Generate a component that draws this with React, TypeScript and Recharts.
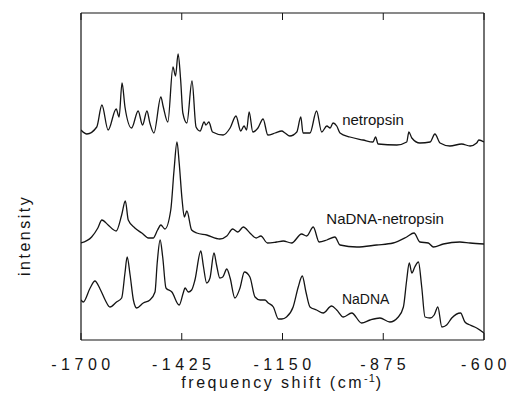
import { LineChart, Line, XAxis, YAxis, ReferenceDot } from 'recharts';

// Raman spectra, intensity in arbitrary units (offset traces)
const netropsinShift = [
  -1700, -1684, -1657, -1643, -1626, -1604, -1596, -1588, -1580, -1562, -1544, -1532, -1520, -1512,
  -1501, -1482, -1476, -1463, -1449, -1442, -1435, -1428, -1422, -1411, -1397, -1386, -1375, -1364,
  -1359, -1351, -1341, -1312, -1293, -1277, -1264, -1255, -1248, -1241, -1231, -1217, -1203, -1190,
  -1170, -1152, -1143, -1130, -1111, -1100, -1094, -1075, -1057, -1043, -1029, -1020, -1012, -1002,
  -993, -966, -930, -903, -896, -889, -838, -811, -805, -797, -775, -747, -734, -720, -693, -661,
  -638, -620, -614, -600,
];
const netropsinIntensity = [
  210, 206, 213, 235, 210, 231, 223, 257, 233, 212, 229, 215, 229, 217,
  207, 243, 234, 218, 273, 264, 286, 260, 227, 217, 259, 213, 209, 218,
  215, 218, 208, 205, 212, 224, 209, 214, 210, 228, 208, 212, 221, 205,
  207, 209, 207, 204, 208, 223, 207, 207, 229, 208, 214, 212, 217, 214,
  207, 203, 200, 198, 203, 196, 195, 198, 208, 202, 197, 198, 206, 197, 194, 196,
  194, 197, 200, 198,
];

const complexShift = [
  -1700, -1671, -1654, -1643, -1626, -1604, -1589, -1579, -1571, -1553, -1534, -1516, -1503, -1491,
  -1482, -1471, -1455, -1446, -1438, -1432, -1424, -1418, -1411, -1398, -1384, -1357, -1321, -1302,
  -1286, -1272, -1257, -1239, -1222, -1209, -1191, -1166, -1148, -1125, -1098, -1084, -1066, -1050,
  -1029, -1007, -993, -947, -893, -848, -811, -791, -775, -752, -738, -711, -666, -638, -600,
];
const complexIntensity = [
  97, 103, 112, 120, 115, 109, 125, 139, 120, 112, 107, 102, 102, 110,
  115, 111, 130, 170, 198, 177, 140, 123, 129, 110, 107, 105, 101, 104,
  111, 108, 113, 107, 102, 104, 97, 98, 99, 97, 106, 104, 113, 98,
  100, 103, 95, 93, 95, 97, 103, 107, 98, 97, 93, 96, 98, 97, 96,
];

const dnaShift = [
  -1700, -1694, -1675, -1662, -1648, -1634, -1621, -1603, -1589, -1580, -1574, -1566, -1557, -1548,
  -1530, -1512, -1498, -1492, -1484, -1477, -1468, -1452, -1432, -1421, -1416, -1407, -1398, -1389,
  -1373, -1366, -1357, -1348, -1337, -1330, -1321, -1313, -1302, -1293, -1280, -1266, -1254, -1239,
  -1225, -1211, -1198, -1189, -1175, -1161, -1152, -1139, -1121, -1107, -1096, -1086, -1075, -1057,
  -1039, -1016, -1002, -984, -961, -934, -911, -884, -857, -834, -820, -811, -804, -797, -789, -779,
  -770, -761, -747, -736, -726, -715, -702, -688, -664, -652, -638, -620, -600,
];
const dnaIntensity = [
  40, 38, 52, 59, 51, 40, 33, 38, 42, 67, 83, 65, 40, 32,
  37, 40, 48, 77, 100, 83, 52, 48, 35, 47, 52, 48, 50, 60,
  89, 74, 57, 62, 87, 75, 62, 63, 71, 62, 42, 52, 68, 63,
  43, 40, 40, 37, 33, 21, 21, 23, 33, 53, 64, 48, 33, 30,
  27, 34, 30, 23, 27, 17, 20, 22, 18, 23, 33, 60, 77, 67, 73, 78,
  53, 23, 22, 25, 33, 13, 15, 22, 27, 18, 15, 12, 7,
];

const xTicks = [-1700, -1425, -1150, -875, -600];

const toPoints = (xs: number[], ys: number[]) => xs.map((x, i) => ({ x, y: ys[i] }));
const netropsinData = toPoints(netropsinShift, netropsinIntensity);
const complexData = toPoints(complexShift, complexIntensity);
const dnaData = toPoints(dnaShift, dnaIntensity);

const FONT = '"Liberation Sans", Arial, Helvetica, sans-serif';
const INK = '#141414';

function BottomTick(props: any) {
  const { x, y, payload } = props;
  return (
    <g>
      <line x1={x} x2={x} y1={y} y2={y - 7} stroke={INK} strokeWidth={1} />
      <text x={x} y={y + 30} dx={2} textAnchor="middle" fontFamily={FONT} fontSize={16} letterSpacing={4.5} fill={INK}>
        {payload.value}
      </text>
    </g>
  );
}

function TopTick(props: any) {
  const { x, y } = props;
  return <line x1={x} x2={x} y1={y} y2={y + 7} stroke={INK} strokeWidth={1} />;
}

function XTitle(props: any) {
  const vb = props.viewBox ?? { x: 81, y: 340, width: 403, height: 62 };
  return (
    <text x={vb.x + vb.width / 2} y={vb.y + 48} textAnchor="middle" fontFamily={FONT} fontSize={16} letterSpacing={2.5} fill={INK}>
      frequency shift (cm
      <tspan dy={-6} fontSize={11} letterSpacing={1}>-1</tspan>
      <tspan dy={6}>)</tspan>
    </text>
  );
}

function YTitle(props: any) {
  const vb = props.viewBox ?? { x: 0, y: 13, width: 81, height: 327 };
  const cx = vb.x + 30;
  const cy = vb.y + vb.height * 0.68;
  return (
    <text x={cx} y={cy} transform={`rotate(-90 ${cx} ${cy})`} textAnchor="middle" fontFamily={FONT} fontSize={16} letterSpacing={2.5} fill={INK}>
      intensity
    </text>
  );
}

const seriesLabel = (value: string, size: number) => ({
  value,
  position: 'center' as const,
  style: { fontFamily: FONT, fontSize: size, fill: INK },
});

export default function App() {
  return (
    <div style={{ position: 'absolute', left: 0, top: 0, background: '#fff' }}>
      <LineChart width={511} height={402} margin={{ top: 12, right: 26, left: 0, bottom: 0 }}>
        <XAxis
          xAxisId="bottom"
          dataKey="x"
          type="number"
          domain={[-1700, -600]}
          ticks={xTicks}
          allowDataOverflow
          height={62}
          tickSize={0}
          tickMargin={0}
          tickLine={false}
          axisLine={{ stroke: INK, strokeWidth: 1.2 }}
          tick={<BottomTick />}
          label={<XTitle />}
        />
        <XAxis
          xAxisId="top"
          orientation="top"
          dataKey="x"
          type="number"
          domain={[-1700, -600]}
          ticks={xTicks}
          allowDataOverflow
          height={1}
          tickSize={0}
          tickMargin={0}
          tickLine={false}
          axisLine={{ stroke: INK, strokeWidth: 1.2 }}
          tick={<TopTick />}
        />
        <YAxis
          yAxisId="left"
          type="number"
          domain={[0, 327]}
          width={81}
          tick={false}
          tickLine={false}
          axisLine={{ stroke: INK, strokeWidth: 1.2 }}
          label={<YTitle />}
        />
        <YAxis
          yAxisId="right"
          orientation="right"
          type="number"
          domain={[0, 327]}
          width={1}
          tick={false}
          tickLine={false}
          axisLine={{ stroke: INK, strokeWidth: 1.2 }}
        />
        <Line data={netropsinData} xAxisId="bottom" yAxisId="left" dataKey="y" type="monotone" stroke={INK} strokeWidth={1.3} dot={false} isAnimationActive={false} />
        <Line data={complexData} xAxisId="bottom" yAxisId="left" dataKey="y" type="monotone" stroke={INK} strokeWidth={1.3} dot={false} isAnimationActive={false} />
        <Line data={dnaData} xAxisId="bottom" yAxisId="left" dataKey="y" type="monotone" stroke={INK} strokeWidth={1.3} dot={false} isAnimationActive={false} />
        <ReferenceDot xAxisId="bottom" yAxisId="left" x={-903} y={220} r={1} fill="none" stroke="none" label={seriesLabel('netropsin', 15)} />
        <ReferenceDot xAxisId="bottom" yAxisId="left" x={-870} y={121} r={1} fill="none" stroke="none" label={seriesLabel('NaDNA-netropsin', 15)} />
        <ReferenceDot xAxisId="bottom" yAxisId="left" x={-923} y={41} r={1} fill="none" stroke="none" label={seriesLabel('NaDNA', 14)} />
      </LineChart>
    </div>
  );
}
